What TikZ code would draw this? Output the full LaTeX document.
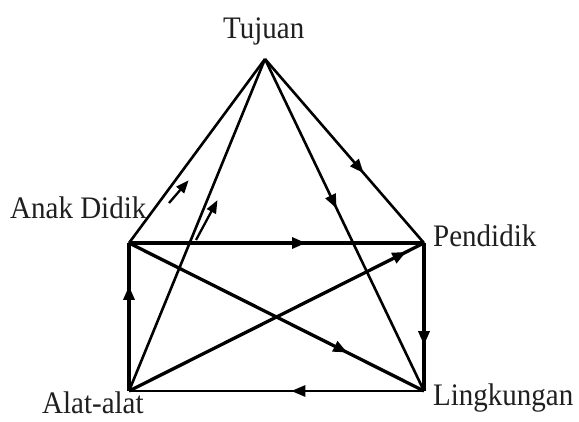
\documentclass[tikz,border=0pt]{standalone}
\usepackage{fontspec}
\setmainfont{Liberation Serif}
\usetikzlibrary{arrows.meta,decorations.markings}
\newcommand{\lbltext}[1]{\scalebox{1}[1.08]{#1}}
\tikzset{
  lbl/.style={anchor=base west,inner sep=0pt,font=\fontsize{29}{32}\selectfont,text=black!88},
  ln/.style={line width=2.6pt},
  thk/.style={line width=3.3pt},
  midarrow/.style={postaction={decorate,decoration={markings,
    mark=at position #1 with {\arrow{Triangle[length=14pt,width=11pt]}}}}},
  tipped/.style={-{Triangle[length=13pt,width=10pt]},line width=2.3pt,shorten >=-1pt}
}
\begin{document}
\begin{tikzpicture}[x=1pt,y=-1pt,line join=miter]
\useasboundingbox (0,0) rectangle (579,421);
% corners
\coordinate (T) at (265,59);
\coordinate (AD) at (129,243);
\coordinate (P) at (424,243);
\coordinate (AA) at (129,391);
\coordinate (L) at (424,391);
% labels
\node[lbl] (tT) at (223,38) {\lbltext{Tujuan}};
\node[lbl] (tAD) at (10,218) {\lbltext{Anak Didik}};
\node[lbl] (tP) at (433,246) {\lbltext{Pendidik}};
\node[lbl] (tAA) at (42,413) {\lbltext{Alat-alat}};
\node[lbl] (tL) at (433,405) {\lbltext{Lingkungan}};
% lines from apex
\draw[ln] (T) -- (AD);
\draw[ln] (T) -- (AA);
\draw[ln,midarrow=0.62] (T) -- (P);
\draw[ln,midarrow=0.45] (T) -- (L);
% rectangle
\draw[thk,midarrow=0.60] (AD) -- (P);
\draw[thk,midarrow=0.69] (P) -- (L);
\draw[ln,midarrow=0.45] (L) -- (AA);
\draw[thk,midarrow=0.71] (AA) -- (AD);
% diagonals
\draw[thk,midarrow=0.74] (AD) -- (L);
\draw[thk,midarrow=0.94] (AA) -- (P);
% short free arrows
\coordinate (s1a) at (169,203);
\coordinate (s1b) at (188,181);
\coordinate (s2a) at (196,240);
\coordinate (s2b) at (217,201);
\draw[tipped] (s1a) -- (s1b);
\draw[tipped] (s2a) -- (s2b);
\end{tikzpicture}
\end{document}
